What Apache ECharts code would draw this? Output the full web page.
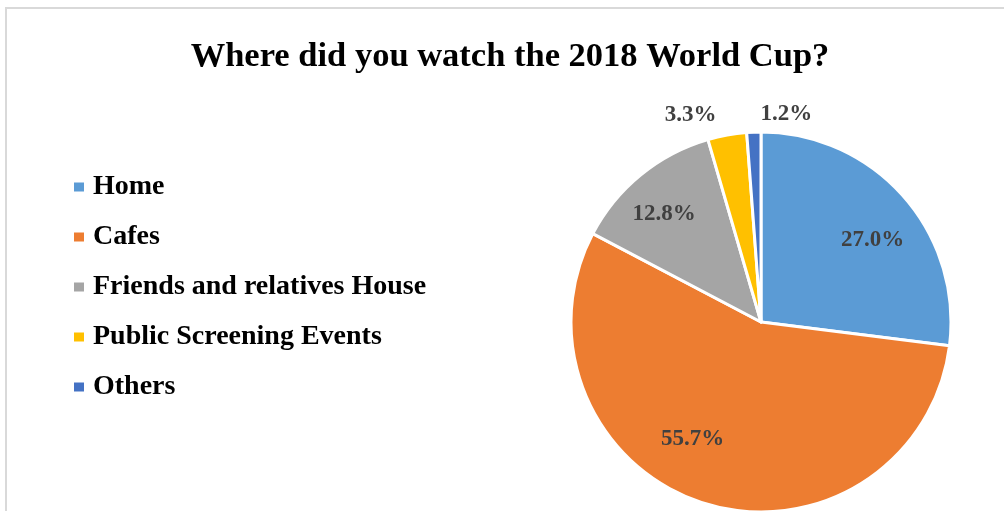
<!DOCTYPE html>
<html>
<head>
<meta charset="utf-8">
<script src="https://cdn.jsdelivr.net/npm/echarts@6/dist/echarts.min.js"></script>
<style>
  html, body { margin: 0; padding: 0; background: #fff; }
  #main { width: 1004px; height: 511px; }
</style>
</head>
<body>
<div id="main"></div>
<script>
var places = ['Home', 'Cafes', 'Friends and relatives House', 'Public Screening Events', 'Others'];
var shares = [27.0, 55.7, 12.8, 3.3, 1.2];
var colors = ['#5b9bd5', '#ed7d31', '#a5a5a5', '#ffc000', '#4472c4'];
// nudges so the labels sit where Excel put them
var labelOffsets = [[38, -17], [-39, 24], [-35, -32], [-53, -111], [29, -110]];

var chartDom = document.getElementById('main');
var myChart = echarts.init(chartDom);
var font = '"Liberation Serif", "Times New Roman", serif';

var option = {
  animation: false,
  title: {
    text: 'Where did you watch the 2018 World Cup?',
    left: 505,
    textAlign: 'center',
    top: 35,
    textStyle: {
      fontFamily: font,
      fontSize: 34.5,
      fontWeight: 'bold',
      color: '#000'
    }
  },
  legend: {
    orient: 'vertical',
    left: 72,
    top: 173,
    padding: 0,
    itemWidth: 12,
    itemHeight: 11,
    itemGap: 22,
    icon: 'rect',
    data: places,
    textStyle: {
      fontFamily: font,
      fontSize: 28,
      fontWeight: 'bold',
      color: '#000',
      lineHeight: 28,
      padding: [0, 0, 0, 3]
    }
  },
  graphic: [{
    type: 'rect',
    shape: { x: 6, y: 8, width: 1100, height: 600 },
    style: { fill: 'none', stroke: '#d9d9d9', lineWidth: 2 },
    silent: true
  }],
  series: [{
    type: 'pie',
    center: [761, 322],
    radius: 190,
    startAngle: 90,
    clockwise: true,
    label: {
      show: true,
      position: 'inside',
      formatter: function (p) { return p.value.toFixed(1) + '%'; },
      fontFamily: font,
      fontSize: 23,
      fontWeight: 'bold',
      color: '#404040'
    },
    labelLine: { show: false },
    itemStyle: { borderColor: '#fff', borderWidth: 3 },
    emphasis: { disabled: true },
    data: places.map(function (name, i) {
      return {
        name: name,
        value: shares[i],
        itemStyle: { color: colors[i] },
        label: { offset: labelOffsets[i] }
      };
    })
  }]
};

option && myChart.setOption(option);

window.onresize = function () {
  myChart.resize();
};
</script>
</body>
</html>
